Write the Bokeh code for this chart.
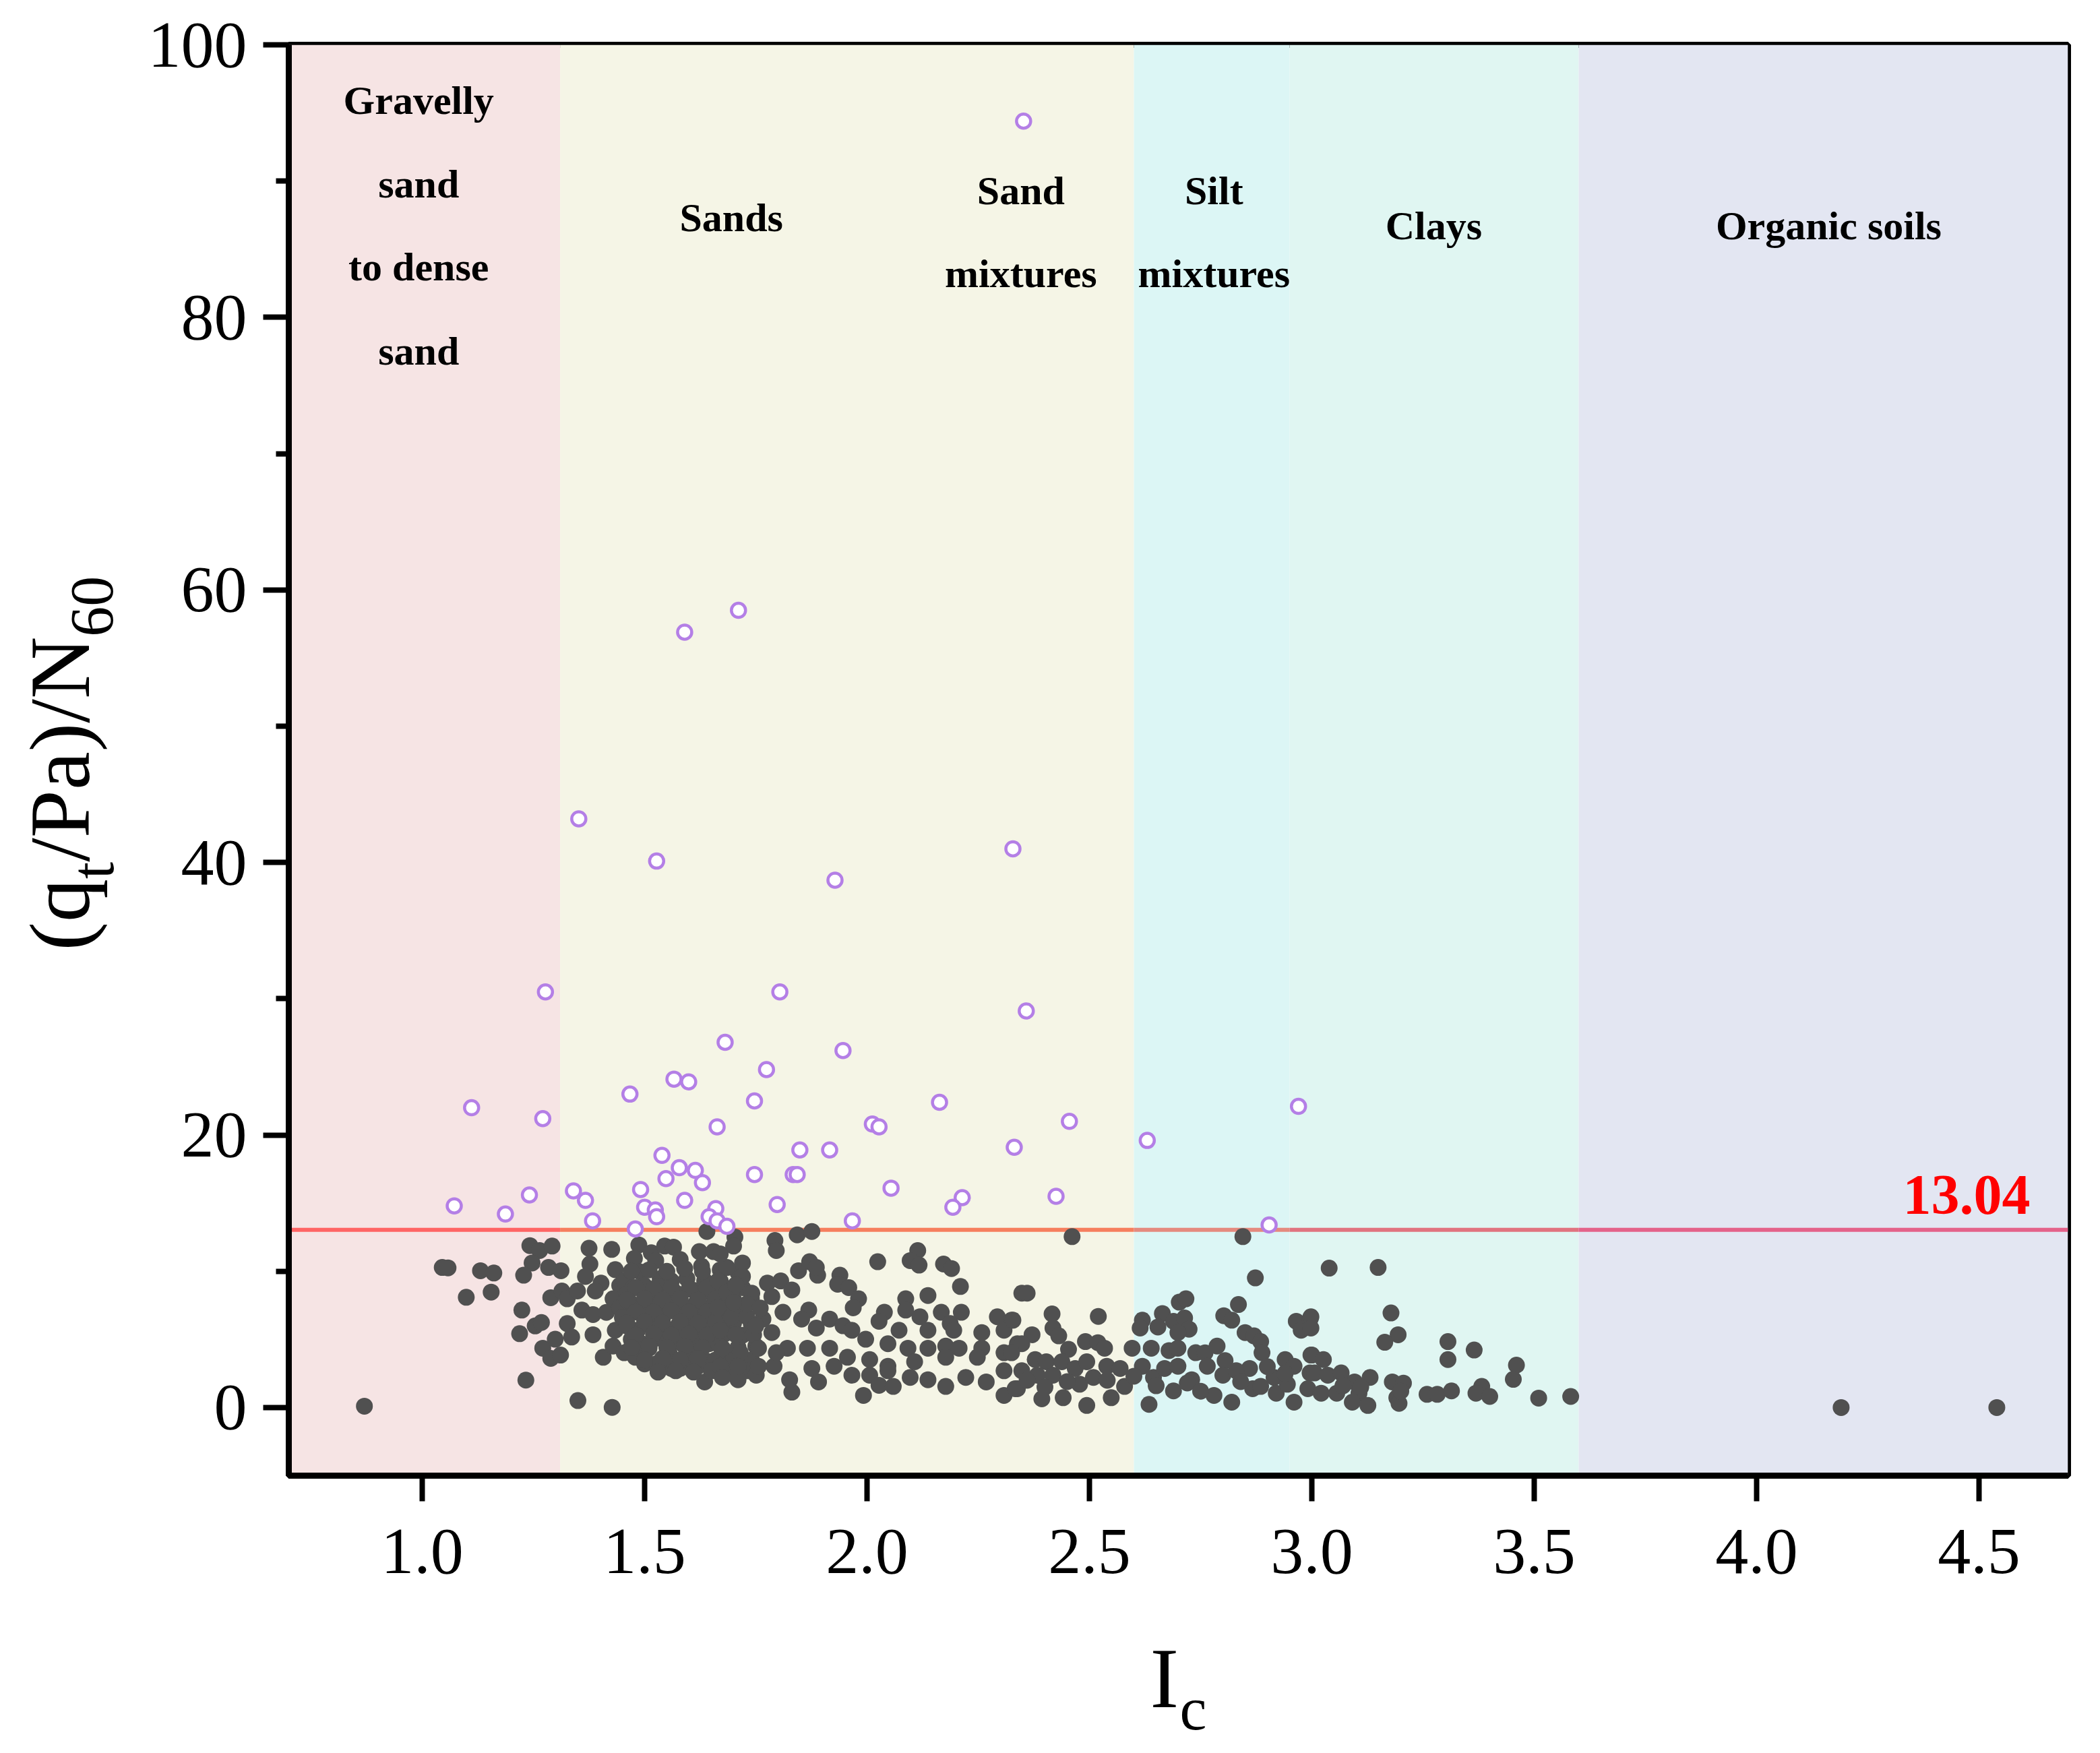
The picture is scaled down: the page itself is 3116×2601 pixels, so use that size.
import math
from bokeh.plotting import figure
from bokeh.layouts import row, column
from bokeh.models import Range1d, FixedTicker, Label, PrintfTickFormatter
from bokeh.core.properties import value
from bokeh.embed import file_html
from bokeh.resources import INLINE

# ---------------- data ----------------
x_min, x_max = 0.7, 4.7
y_min, y_max = -5, 100
threshold = 13.04

zone_left = [0.7, 1.31, 2.6, 2.95, 3.6]
zone_right = [1.31, 2.6, 2.95, 3.6, 4.7]
zone_colors = ["#F6E4E4", "#F5F5E6", "#DCF6F5", "#E0F6F2", "#E3E6F2"]
line_colors = ["#FF6464", "#F67E5E", "#E58A7E", "#E1737F", "#E4628A"]

label_text = ["Gravelly", "sand", "to dense", "sand", "Sands", "Sand", "mixtures",
              "Silt", "mixtures", "Clays", "Organic soils"]
label_x = [0.992, 0.992, 0.992, 0.992, 1.695, 2.346, 2.346, 2.780, 2.780, 3.274, 4.162]
label_y = [95.9, 89.8, 83.7, 77.5, 87.3, 89.3, 83.2, 89.3, 83.2, 86.7, 86.7]

# points above the threshold (open purple circles)
ic_high = [2.352, 1.711, 1.590, 1.352, 1.527, 2.328, 1.928, 1.277, 1.804, 1.681,
           2.358, 1.946, 1.774, 1.566, 1.599, 1.467, 1.111, 1.747, 2.163, 2.970,
           1.271, 1.663, 2.012, 2.027, 2.455, 2.630, 1.539, 1.849, 1.916, 2.331,
           1.578, 1.614, 1.548, 1.630, 1.747, 1.834, 1.843, 1.340, 1.491, 2.054,
           1.072, 1.241, 1.367, 1.590, 1.500, 2.214, 2.425, 1.187, 1.524, 1.527,
           1.660, 1.798, 2.193, 1.383, 1.645, 1.663, 1.685, 1.479, 1.967, 2.904]
qn_high = [94.4, 58.5, 56.9, 43.2, 40.1, 41.0, 38.7, 30.5, 30.5, 26.8,
           29.1, 26.2, 24.8, 24.1, 23.9, 23.0, 22.0, 22.5, 22.4, 22.1,
           21.2, 20.6, 20.8, 20.6, 21.0, 19.6, 18.5, 18.9, 18.9, 19.1,
           17.6, 17.4, 16.8, 16.5, 17.1, 17.1, 17.1, 15.9, 16.0, 16.1,
           14.8, 15.6, 15.2, 15.2, 14.7, 15.4, 15.5, 14.2, 14.5, 14.0,
           14.6, 14.9, 14.7, 13.7, 14.0, 13.7, 13.3, 13.1, 13.7, 13.4]

# points below the threshold (filled dark circles)
ic_low = [
    0.870, 4.190, 4.540,
    1.045, 1.058, 1.131, 1.161, 1.099, 1.155, 1.242, 1.264, 1.292, 1.247, 1.228, 1.284,
    1.312, 1.224, 1.254, 1.268, 1.219, 1.271, 1.299, 1.289, 1.311, 1.233, 1.350, 1.427,
    1.289, 1.314, 1.326, 1.349, 1.375, 1.377, 1.367, 1.402, 1.389, 1.326, 1.336, 1.359,
    1.384, 1.414, 1.384, 1.407, 1.426, 1.434, 1.487, 1.477, 1.490, 1.515, 1.525, 1.545,
    1.565, 1.580, 1.623, 1.628, 1.640, 1.655, 1.535, 1.444, 1.429,
    1.454, 1.474, 1.499, 1.520, 1.560, 1.595, 1.635, 1.670, 1.444, 1.469, 1.494, 1.525,
    1.555, 1.585, 1.615, 1.645, 1.675, 1.434, 1.459, 1.484, 1.515, 1.545, 1.575, 1.605,
    1.635, 1.665, 1.429, 1.454, 1.479, 1.510, 1.525, 1.555, 1.560, 1.580, 1.605, 1.620,
    1.635, 1.660, 1.675, 1.494, 1.585, 1.645,
    1.460, 1.530, 1.570, 1.610, 1.650, 1.450, 1.500, 1.540, 1.590, 1.630, 1.670, 1.470,
    1.530, 1.570, 1.620, 1.660, 1.500, 1.590, 1.640,
    1.470, 1.510, 1.550, 1.590, 1.630, 1.670, 1.710,
    1.480, 1.520, 1.560, 1.600, 1.640, 1.680, 1.720,
    1.460, 1.500, 1.540, 1.580, 1.620, 1.660, 1.700, 1.740,
    1.480, 1.520, 1.560, 1.600, 1.640, 1.680, 1.720,
    1.460, 1.500, 1.540, 1.580, 1.620, 1.660, 1.700, 1.740,
    1.480, 1.520, 1.560, 1.600, 1.640, 1.680, 1.720,
    1.470, 1.510, 1.550, 1.590, 1.630, 1.670, 1.710, 1.750,
    1.500, 1.540, 1.580, 1.620, 1.660, 1.700, 1.740,
    1.530, 1.570, 1.610, 1.650, 1.690, 1.730,
    1.703, 1.700, 1.793, 1.796, 1.843, 1.876, 2.024, 2.114, 2.097, 2.117, 2.172, 2.190,
    2.210, 2.348, 1.720, 1.720, 1.685, 1.846, 1.871, 1.889, 1.886, 1.939, 1.934, 1.959,
    1.981, 1.969, 1.776, 1.806, 1.831, 1.741, 1.786, 1.811, 1.869, 1.853, 1.916, 1.886,
    1.946, 1.966, 1.997, 2.039, 2.027, 2.087, 2.087, 2.119, 2.137, 2.167, 2.212, 2.187,
    2.195, 2.293, 2.325, 2.258, 2.308, 2.338, 2.137, 2.072, 2.047, 2.092, 2.137, 2.177,
    2.207, 2.258, 2.308, 2.248, 2.177, 2.107, 2.047, 2.006, 1.956, 1.916, 1.866, 1.821,
    1.876, 1.926, 1.966, 2.006, 2.047, 2.097, 2.137, 2.177, 2.222, 2.268, 2.308, 2.338,
    2.308, 1.891, 1.831, 1.826, 2.027, 2.059, 1.992, 1.710, 1.751, 1.791, 1.670, 1.665,
    1.685, 1.665, 1.695, 1.730, 1.766, 1.670, 1.705, 1.745, 1.786, 1.675, 1.715, 1.756,
    1.796, 1.670, 1.710, 1.756, 1.675, 1.705, 1.730, 1.760, 1.700, 1.750,
    2.461, 2.845, 2.873, 2.360, 2.520, 2.416, 2.418, 2.431, 2.328, 2.371, 2.348, 2.325,
    2.453, 2.491, 2.519, 2.534, 2.378, 2.403, 2.348, 2.383, 2.418, 2.333, 2.393, 2.441,
    2.494, 2.549, 2.438, 2.468, 2.494, 2.478, 2.509, 2.539, 2.569, 2.579, 2.596, 2.619,
    2.614, 2.639, 2.619, 2.644, 2.634, 2.664, 2.654, 2.689, 2.714, 2.724, 2.699, 2.702,
    2.717, 2.679, 2.699, 2.669, 2.699, 2.689, 2.730, 2.739, 2.760, 2.787, 2.765, 2.805,
    2.800, 2.780, 2.820, 2.802, 2.820, 2.835, 2.850, 2.870, 2.885, 2.888, 2.860, 2.830,
    2.867, 2.885, 2.915, 2.920, 2.940, 2.960, 2.945, 2.960, 2.965, 2.976, 2.996, 2.998,
    2.996, 2.991, 2.360, 2.400, 2.450, 2.540, 2.600, 2.650, 2.720, 2.750, 2.840, 2.900,
    2.940,
    3.039, 3.149, 3.178, 3.194, 3.164, 3.306, 3.306, 3.365, 3.460, 3.453, 3.510, 3.582,
    2.998, 2.998, 3.000, 3.026, 3.006, 3.036, 3.066, 3.021, 3.056, 3.096, 3.131, 3.106,
    3.091, 3.126, 3.181, 3.206, 3.191, 3.196, 3.259, 3.282, 3.314, 3.382, 3.369, 3.400,
    3.070, 3.110, 3.200,
]
qn_low = [
    0.10, 0.00, 0.00,
    10.28, 10.25, 10.04, 9.87, 8.09, 8.47, 11.88, 11.52, 11.85, 10.61, 9.71, 10.28,
    10.04, 7.15, 5.99, 6.24, 5.42, 4.35, 5.01, 3.61, 3.85, 2.01, 0.51, 0.01,
    8.06, 8.55, 7.98, 8.55, 11.69, 10.53, 9.62, 9.13, 8.55, 6.16, 5.17, 7.15,
    6.82, 6.98, 5.34, 3.69, 11.60, 10.12, 11.93, 10.94, 9.95, 11.36, 10.78, 11.85,
    11.77, 10.86, 11.44, 10.37, 12.92, 11.44, 9.46, 8.96, 7.98,
    9.29, 8.80, 8.96, 8.30, 9.29, 9.46, 9.29, 9.29, 7.32, 7.65, 7.32, 7.32,
    7.65, 7.32, 7.65, 7.32, 7.65, 5.67, 6.00, 5.67, 6.00, 5.67, 6.00, 5.67,
    6.00, 5.67, 4.51, 4.02, 3.69, 4.35, 3.20, 4.02, 2.87, 2.87, 4.02, 3.03,
    1.88, 2.70, 3.69, 4.68, 4.68, 4.68,
    8.30, 8.90, 8.40, 8.60, 8.40, 6.60, 6.70, 6.50, 6.60, 6.70, 6.50, 5.00,
    5.10, 5.20, 5.00, 4.90, 3.20, 3.60, 3.40,
    10.0, 10.1, 10.0, 10.2, 10.0, 10.1, 9.9,
    8.8, 8.7, 8.8, 8.7, 8.8, 8.7, 8.8,
    7.9, 8.0, 7.9, 8.0, 7.9, 8.0, 7.9, 8.0,
    7.0, 7.0, 7.1, 7.0, 7.0, 7.1, 7.0,
    6.2, 6.3, 6.2, 6.3, 6.2, 6.3, 6.2, 6.1,
    5.3, 5.4, 5.3, 5.4, 5.3, 5.4, 5.3,
    4.4, 4.5, 4.4, 4.5, 4.4, 4.5, 4.4, 4.5,
    3.5, 3.6, 3.5, 3.6, 3.5, 3.6, 3.5,
    2.6, 2.7, 2.6, 2.7, 2.6, 2.7,
    12.51, 11.85, 12.26, 11.52, 12.67, 12.92, 10.70, 11.52, 10.78, 10.45, 10.53, 10.20,
    8.88, 8.39, 10.61, 9.62, 10.28, 10.04, 10.70, 9.71, 10.28, 9.71, 9.05, 8.80,
    7.98, 7.32, 9.13, 9.29, 8.63, 8.39, 8.14, 6.99, 7.15, 6.49, 6.49, 5.83,
    6.00, 5.67, 5.01, 6.99, 6.33, 7.98, 7.15, 6.66, 8.22, 6.99, 6.99, 6.16,
    5.67, 6.66, 6.41, 5.50, 5.67, 4.68, 5.67, 5.67, 4.68, 4.35, 4.35, 4.51,
    4.35, 4.35, 4.02, 3.69, 3.69, 3.36, 3.03, 3.52, 3.69, 4.35, 4.35, 4.35,
    2.87, 3.03, 2.37, 2.37, 2.70, 2.21, 2.04, 1.55, 2.21, 1.88, 0.89, 1.38,
    2.70, 1.88, 1.13, 2.04, 1.63, 1.55, 0.89, 2.04, 2.37, 3.03, 11.27, 9.29,
    8.47, 7.32, 6.66, 6.66, 6.49, 5.67, 5.34, 5.34, 5.50, 4.35, 4.02, 4.35,
    4.02, 3.03, 3.03, 3.03, 2.21, 9.00, 7.60, 7.30, 7.70, 6.00,
    12.54, 12.54, 9.51, 8.39, 6.69, 6.87, 5.83, 5.26, 6.41, 5.34, 4.68, 4.02,
    4.27, 4.84, 4.76, 4.35, 3.52, 3.36, 2.70, 2.37, 2.37, 1.38, 0.64, 0.72,
    0.15, 0.72, 3.36, 2.87, 3.36, 1.71, 2.21, 3.03, 2.87, 1.55, 4.35, 6.41,
    5.83, 4.35, 3.03, 2.21, 0.23, 6.90, 5.91, 6.33, 6.57, 5.75, 5.50, 7.73,
    7.98, 4.18, 4.35, 2.87, 3.03, 1.22, 2.04, 4.02, 4.02, 4.51, 3.03, 3.44,
    2.37, 0.89, 0.39, 6.74, 6.41, 7.56, 5.50, 5.26, 4.84, 4.02, 2.87, 2.70,
    1.38, 1.55, 2.21, 1.05, 3.52, 3.03, 1.71, 0.39, 6.33, 5.67, 6.49, 3.85,
    2.54, 1.38, 2.00, 1.50, 1.90, 2.00, 2.30, 1.60, 1.80, 1.20, 1.90, 3.00,
    2.50,
    10.23, 10.28, 6.94, 5.34, 4.79, 4.84, 3.52, 4.22, 3.11, 2.07, 0.69, 0.81,
    6.66, 5.83, 3.85, 3.52, 2.54, 2.37, 2.54, 1.05, 1.05, 1.88, 2.21, 1.05,
    0.39, 0.15, 1.88, 1.79, 0.72, 0.31, 0.97, 0.97, 1.22, 1.55, 1.05, 0.81,
    1.60, 1.50, 1.20,
]

x_ticks = [1.0, 1.5, 2.0, 2.5, 3.0, 3.5, 4.0, 4.5]
y_ticks = [0, 20, 40, 60, 80, 100]
y_minor = [10, 30, 50, 70, 90]

SERIF = "Liberation Serif"
TOTAL_W, TOTAL_H = 3100, 2585
YT_W = 200          # strip holding the y-axis title
MAIN_H = 2404       # main figure height (x-axis title strip below it)
FRAME_L, FRAME_R, FRAME_T, FRAME_B = 428, 3068, 66, 2189   # page pixels

# ---------------- main figure ----------------
p = figure(width=TOTAL_W - YT_W, height=MAIN_H,
           x_range=Range1d(x_min, x_max), y_range=Range1d(y_min, y_max),
           output_backend="svg", toolbar_location=None,
           min_border_left=FRAME_L - YT_W, min_border_right=TOTAL_W - FRAME_R,
           min_border_top=FRAME_T, min_border_bottom=MAIN_H - FRAME_B)
p.background_fill_color = "white"
p.border_fill_color = "white"
p.outline_line_color = "black"
p.outline_line_width = 9
p.xgrid.visible = False
p.ygrid.visible = False

p.quad(left=zone_left, right=zone_right, bottom=y_min, top=y_max,
       fill_color=zone_colors, line_color=None)

p.segment(x0=zone_left, x1=zone_right, y0=threshold, y1=threshold,
          line_color=line_colors, line_width=6)

p.scatter(ic_low, qn_low, marker="circle", size=25,
          fill_color="#505050", line_color=None)
p.scatter(ic_high, qn_high, marker="circle", size=21,
          fill_color="white", line_color="#B47FE6", line_width=4.5)

p.text(x=label_x, y=label_y, text=label_text,
       text_font=value(SERIF), text_font_style="bold", text_font_size="60px",
       text_color="black", text_align="center", text_baseline="middle")

p.add_layout(Label(x=x_max, y=threshold, x_offset=-56, y_offset=52,
                   text=f"{threshold:.2f}", text_font=SERIF, text_font_style="bold",
                   text_font_size="84px", text_color="#FF0000",
                   text_align="right", text_baseline="middle"))

for ax in (p.xaxis[0], p.yaxis[0]):
    ax.axis_line_width = 9
    ax.axis_line_color = "black"
    ax.major_tick_line_width = 8
    ax.minor_tick_line_width = 8
    ax.major_tick_in = 0
    ax.major_tick_out = 38
    ax.minor_tick_in = 0
    ax.minor_tick_out = 19
    ax.major_label_text_font = SERIF
    ax.major_label_text_font_size = "98px"
    ax.major_label_text_color = "black"
    ax.axis_label = None

p.xaxis[0].ticker = FixedTicker(ticks=x_ticks, minor_ticks=[])
p.xaxis[0].formatter = PrintfTickFormatter(format="%.1f")
p.xaxis[0].major_label_standoff = 42
p.yaxis[0].ticker = FixedTicker(ticks=y_ticks, minor_ticks=y_minor)
p.yaxis[0].major_label_standoff = 24


def text_strip(w, h, y0, y1):
    f = figure(width=w, height=h, x_range=Range1d(0, w), y_range=Range1d(y0, y1),
               output_backend="svg", toolbar_location=None, title=None,
               x_axis_type=None, y_axis_type=None,
               min_border=0, min_border_left=0, min_border_right=0,
               min_border_top=0, min_border_bottom=0)
    f.outline_line_color = None
    f.background_fill_color = "white"
    f.border_fill_color = "white"
    f.xgrid.visible = False
    f.ygrid.visible = False
    return f


MID = 0.3375  # em-box centre above the baseline

# ---------------- y-axis title strip: (q_t/Pa)/N_60 ----------------
# its frame is aligned with the main frame, so data y = MAIN_H - page y
yt = text_strip(YT_W, MAIN_H, MAIN_H - FRAME_B, MAIN_H - FRAME_T)
adv = {"(": 0.333, "q": 0.5, "t": 0.278, "/": 0.278, "P": 0.556, "a": 0.444,
       ")": 0.333, "N": 0.722, "6": 0.5, "0": 0.5}
pieces = [("(q", 128, 132), ("t", 90, 167), ("/Pa)/N", 128, 132), ("60", 90, 167)]
pos = MAIN_H - 1410.0
for txt, fs, base_x in pieces:
    yt.text(x=[base_x - MID * fs], y=[pos], text=[txt], angle=math.pi / 2,
            text_font=value(SERIF), text_font_size=f"{fs}px", text_color="black",
            text_align="left", text_baseline="middle")
    pos += sum(adv[c] for c in txt) * fs

# ---------------- x-axis title strip: I_c ----------------
XT_H = TOTAL_H - MAIN_H
xt = text_strip(TOTAL_W, XT_H, 0, XT_H)
for txt, fs, left_x, base_y in [("I", 128, 1706, 2533), ("c", 90, 1750, 2565)]:
    xt.text(x=[left_x], y=[XT_H - (base_y - MID * fs - MAIN_H)], text=[txt],
            text_font=value(SERIF), text_font_size=f"{fs}px", text_color="black",
            text_align="left", text_baseline="middle")

layout = column(row(yt, p, spacing=0), xt, spacing=0)
open("out.html", "w").write(file_html(layout, INLINE))
